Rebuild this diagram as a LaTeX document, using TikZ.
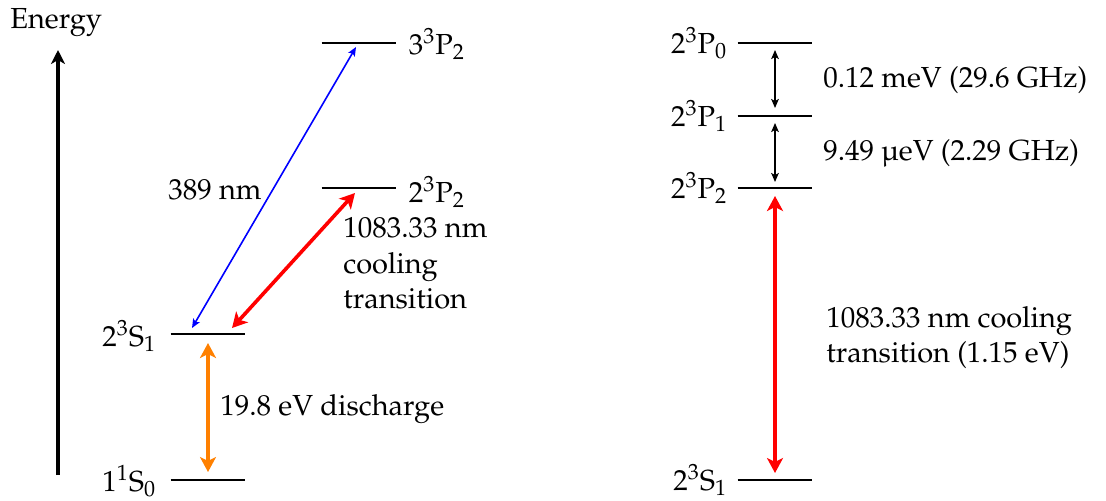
\documentclass[tikz,border=0pt]{standalone}
\usepackage[T1]{fontenc}
\usepackage{mathpazo}
\usepackage{textcomp}
\usetikzlibrary{arrows.meta}

\begin{document}
\begin{tikzpicture}[x=0.5pt, y=-0.5pt, line join=round,
	font=\fontsize{14.5}{17.8}\selectfont,
	level/.style={inner sep=0pt, minimum height=0pt, minimum width=37pt},
	lab/.style={inner sep=0pt},
	thin trans/.style={{Stealth[length=4.5pt,width=3.8pt,inset=1pt]}-{Stealth[length=4.5pt,width=3.8pt,inset=1pt]}, line width=0.8pt},
	thick trans/.style={{Stealth[length=7.5pt,width=8pt,inset=2pt]}-{Stealth[length=7.5pt,width=8pt,inset=2pt]}, line width=1.8pt}]
	\useasboundingbox (0,0) rectangle (1106,500);
	% energy axis
	\draw[-{Stealth[length=7pt,width=7pt,inset=2pt]}, line width=2pt] (58,475) -- (58,50);
	\node[lab, anchor=base west] (energy) at (10,28) {Energy};
	% levels
	\foreach \n/\x/\y in {gs/208/480, ms/208/334, pp/359/188, tp/359/43, rpz/775/43, rpa/775/116, rpb/775/188, rs/775/480}{
		\node[level] (\n) at (\x,\y) {};
		\draw[line width=1pt] (\n.west) -- (\n.east);
	}
	% left scheme
	\node[lab, anchor=base east] (gslab) at ([shift={(-14,11)}]gs.west) {$1^1\mathrm{S}_0$};
	\node[lab, anchor=base east] (mslab) at ([shift={(-14,12)}]ms.west) {$2^3\mathrm{S}_1$};
	\node[lab, anchor=base west] (pplab) at ([shift={(12,14)}]pp.east) {$2^3\mathrm{P}_2$};
	\node[lab, anchor=base west] (tplab) at ([shift={(12,11)}]tp.east) {$3^3\mathrm{P}_2$};
	\draw[thick trans, orange] ([shift={(0,9)}]ms.center) -- ([shift={(0,-8)}]gs.center);
	\draw[thin trans, blue] ([shift={(-16,-6)}]ms.center) -- ([shift={(-3,4)}]tp.center);
	\draw[thick trans, red] ([shift={(24,-6)}]ms.center) -- ([shift={(-4,5)}]pp.center);
	\node[lab, anchor=base west] (dis) at (220,415) {19.8 eV discharge};
	\node[lab, anchor=base east] (uv) at (262,199) {389 nm};
	\node[lab, anchor=north west, align=left] (cool) at (343,217) {1083.33 nm\\cooling\\transition};
	% right scheme
	\node[lab, anchor=base east] (rzlab) at ([shift={(-10,10)}]rpz.west) {$2^3\mathrm{P}_0$};
	\node[lab, anchor=base east] (ralab) at ([shift={(-10,10)}]rpa.west) {$2^3\mathrm{P}_1$};
	\node[lab, anchor=base east] (rblab) at ([shift={(-10,10)}]rpb.west) {$2^3\mathrm{P}_2$};
	\node[lab, anchor=base east] (rslab) at ([shift={(-10,10)}]rs.west) {$2^3\mathrm{S}_1$};
	\draw[thin trans] ([shift={(0,7)}]rpz.center) -- ([shift={(0,-8)}]rpa.center);
	\draw[thin trans] ([shift={(0,7)}]rpa.center) -- ([shift={(0,-6)}]rpb.center);
	\draw[thick trans, red] ([shift={(0,8)}]rpb.center) -- ([shift={(0,-7)}]rs.center);
	\node[lab, anchor=base west] (fsa) at (823,87) {0.12 meV (29.6 GHz)};
	\node[lab, anchor=base west] (fsb) at (823,160) {9.49 \textmu eV (2.29 GHz)};
	\node[lab, anchor=north west, align=left] (coolb) at (826,306) {1083.33 nm cooling\\transition (1.15 eV)};
\end{tikzpicture}
\end{document}
